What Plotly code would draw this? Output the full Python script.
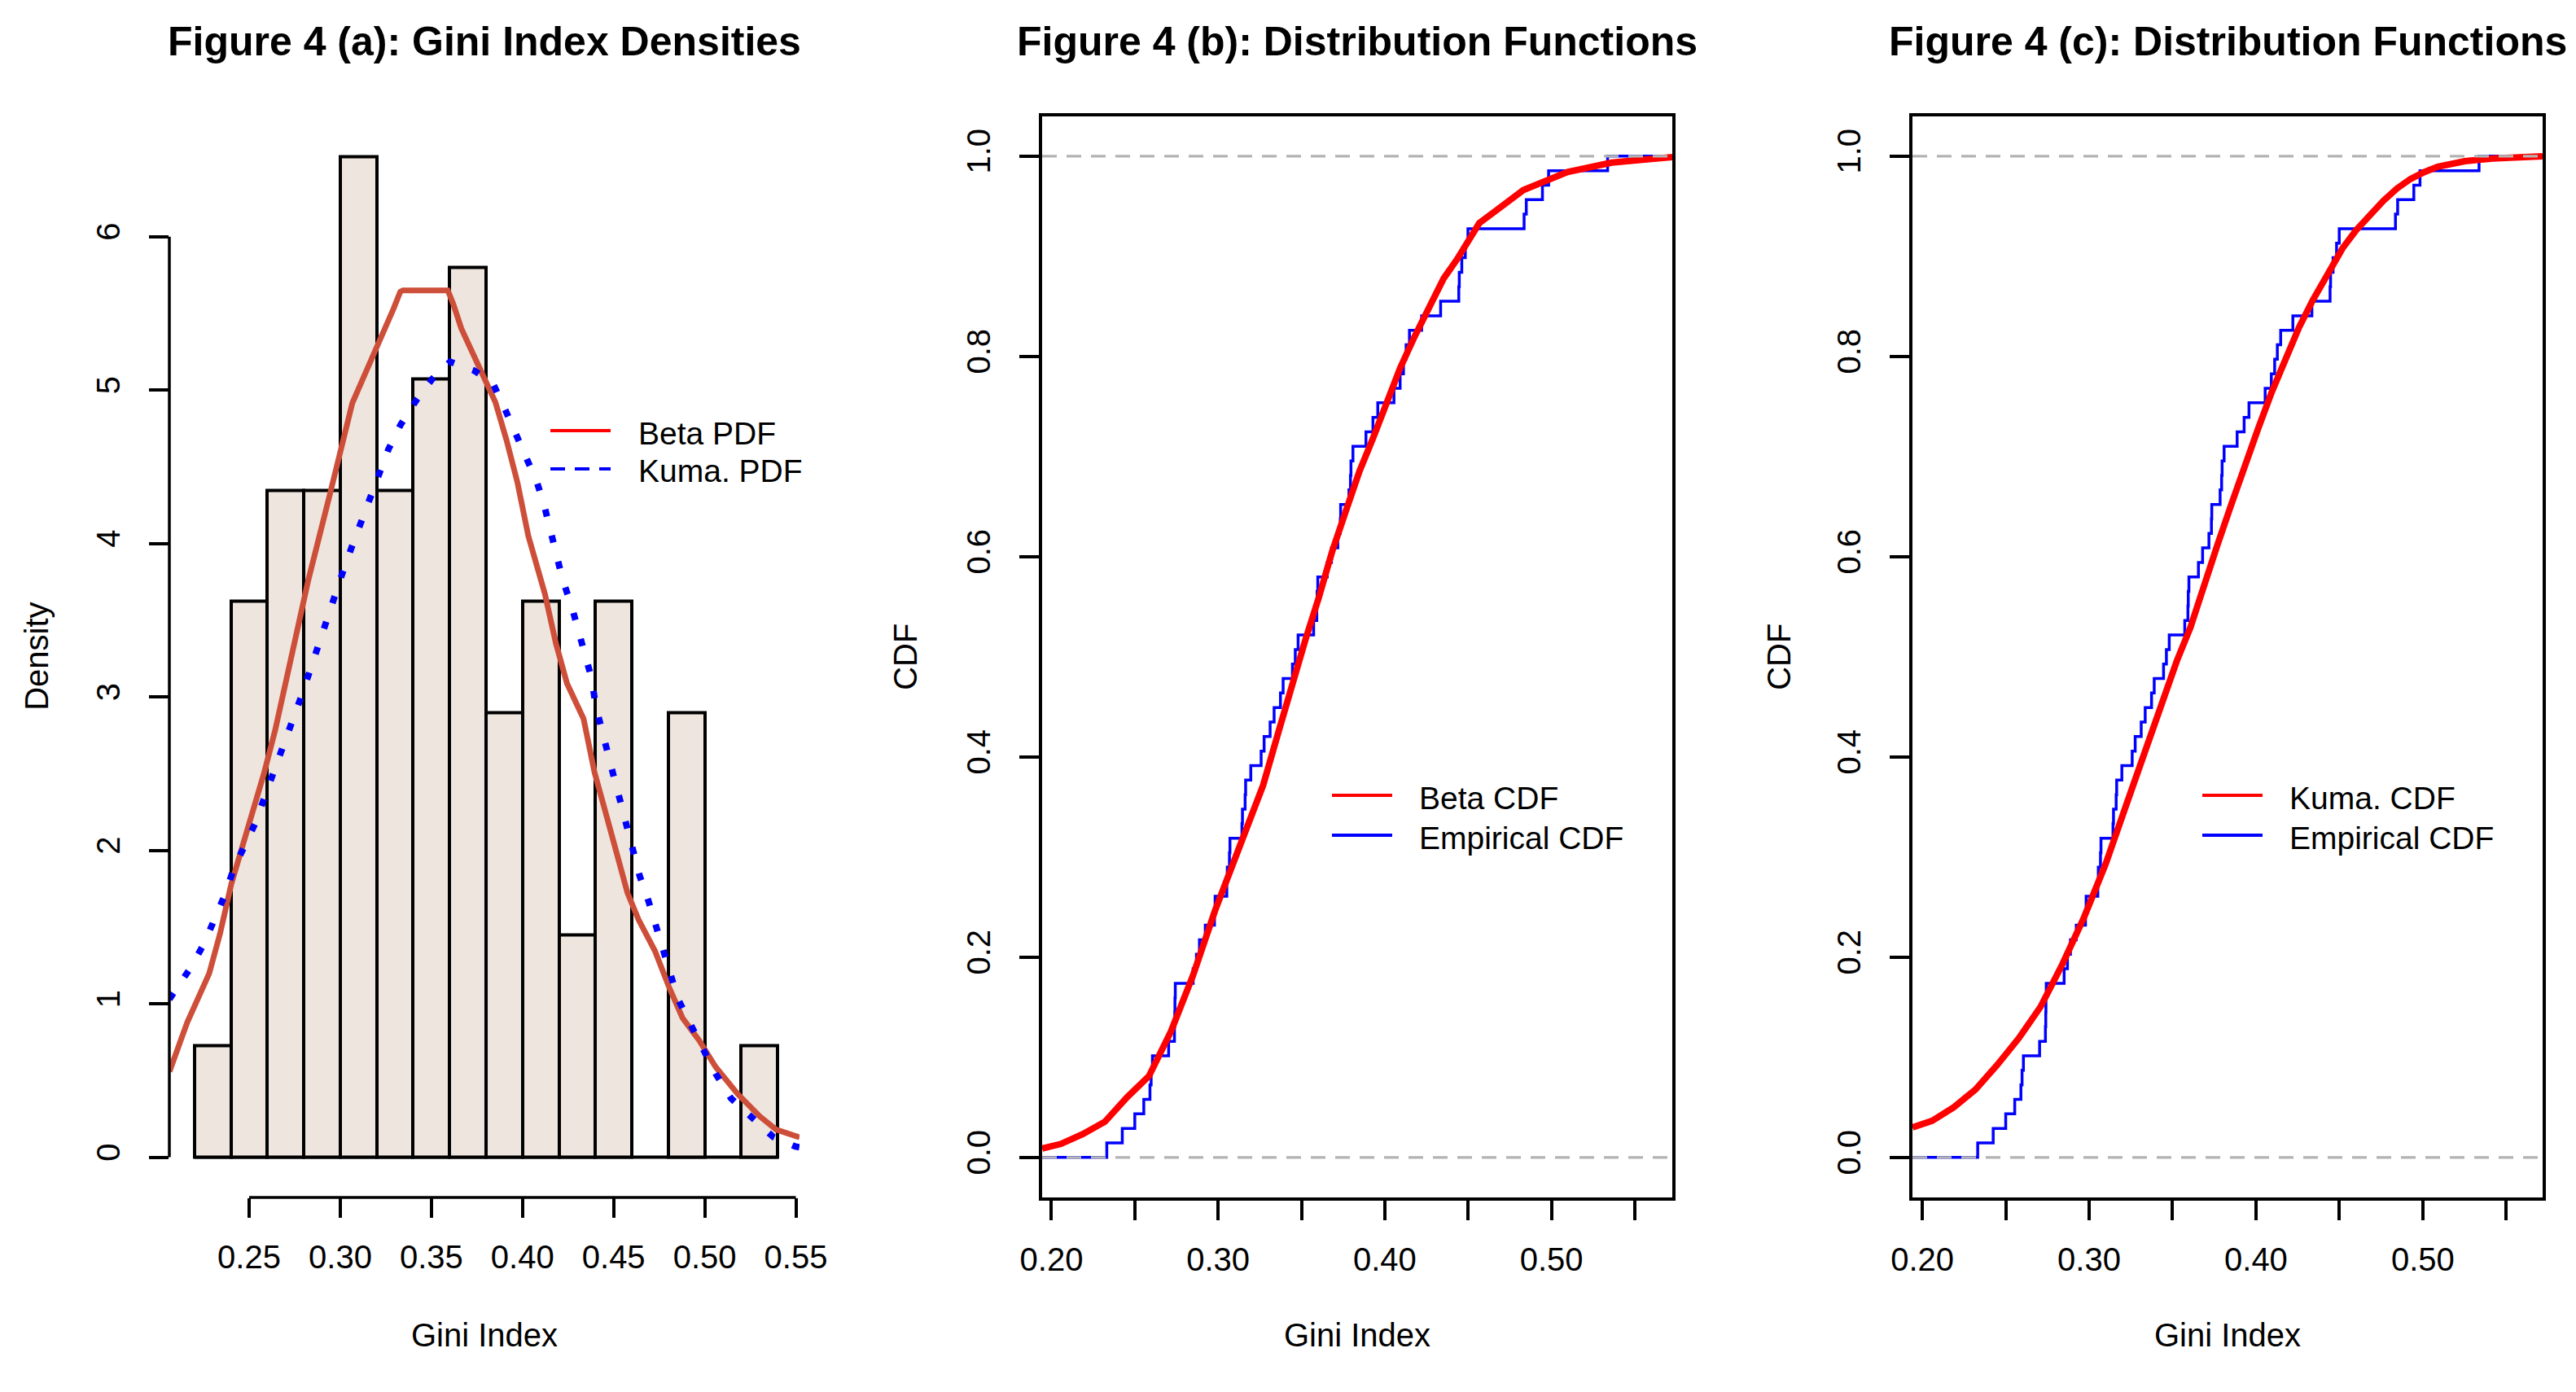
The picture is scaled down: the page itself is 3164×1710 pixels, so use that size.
import plotly.graph_objects as go

W, H = 3164, 1710
FONT = "Liberation Sans, Arial, Helvetica, sans-serif"

# observed Gini index values (n = 69)
gini = [
    0.2332, 0.2425, 0.2500, 0.2554, 0.2591, 0.2598, 0.2606, 0.2703, 0.2738, 0.2740,
    0.2741, 0.2743, 0.2850, 0.2870, 0.2888, 0.2923, 0.2978, 0.2982, 0.3052, 0.3055,
    0.3068, 0.3071, 0.3143, 0.3146, 0.3162, 0.3165, 0.3196, 0.3258, 0.3276, 0.3312,
    0.3336, 0.3374, 0.3390, 0.3446, 0.3463, 0.3480, 0.3573, 0.3592, 0.3594, 0.3598,
    0.3655, 0.3680, 0.3718, 0.3733, 0.3735, 0.3785, 0.3794, 0.3797, 0.3809, 0.3887,
    0.3929, 0.3958, 0.4055, 0.4092, 0.4112, 0.4128, 0.4148, 0.4221, 0.4335, 0.4444,
    0.4447, 0.4462, 0.4483, 0.4499, 0.4836, 0.4849, 0.4946, 0.4983, 0.5337,
]
bin_start, bin_end, bin_size = 0.22, 0.54, 0.02

# fitted densities (panel a)
beta_pdf_x = [0.2063, 0.2160, 0.2281, 0.2341, 0.2402, 0.2462, 0.2522, 0.2583, 0.2643, 0.2688,
              0.2764, 0.2824, 0.2945, 0.3006, 0.3066, 0.3128, 0.3188, 0.3247, 0.3292, 0.3329,
              0.3344, 0.3590, 0.3620, 0.3664, 0.3724, 0.3783, 0.3851, 0.3912, 0.3972, 0.4032,
              0.4123, 0.4183, 0.4244, 0.4335, 0.4395, 0.4456, 0.4516, 0.4576, 0.4637, 0.4727,
              0.4803, 0.4878, 0.4969, 0.5060, 0.5180, 0.5301, 0.5392, 0.5520]
beta_pdf_y = [0.559, 0.879, 1.199, 1.461, 1.781, 2.029, 2.247, 2.509, 2.785, 3.032,
              3.409, 3.759, 4.330, 4.632, 4.915, 5.084, 5.243, 5.420, 5.530, 5.641,
              5.650, 5.650, 5.561, 5.402, 5.243, 5.084, 4.922, 4.675, 4.399, 4.049,
              3.671, 3.351, 3.089, 2.858, 2.509, 2.247, 1.985, 1.723, 1.548, 1.344,
              1.112, 0.908, 0.762, 0.588, 0.413, 0.268, 0.180, 0.130]

kuma_pdf_x = [0.2062, 0.2084, 0.2175, 0.2251, 0.2311, 0.2366, 0.2416, 0.2483, 0.2538, 0.2589,
              0.2637, 0.2689, 0.2740, 0.2788, 0.2831, 0.2876, 0.2924, 0.2966, 0.3012, 0.3060,
              0.3112, 0.3163, 0.3214, 0.3264, 0.3330, 0.3418, 0.3506, 0.3603, 0.3735, 0.3836,
              0.3897, 0.3960, 0.4017, 0.4078, 0.4117, 0.4153, 0.4189, 0.4220, 0.4268, 0.4305,
              0.4340, 0.4380, 0.4401, 0.4431, 0.4470, 0.4501, 0.4537, 0.4570, 0.4606, 0.4643,
              0.4691, 0.4727, 0.4772, 0.4812, 0.4854, 0.4923, 0.4993, 0.5060, 0.5144, 0.5262,
              0.5377, 0.5497, 0.5520]
kuma_pdf_y = [1.030, 1.068, 1.229, 1.388, 1.548, 1.708, 1.883, 2.043, 2.188, 2.363,
              2.515, 2.683, 2.843, 3.010, 3.162, 3.328, 3.488, 3.648, 3.808, 3.968,
              4.131, 4.288, 4.456, 4.614, 4.772, 4.935, 5.075, 5.185, 5.127, 5.048,
              4.894, 4.727, 4.572, 4.404, 4.259, 4.084, 3.925, 3.765, 3.598, 3.444,
              3.279, 3.118, 2.945, 2.794, 2.640, 2.480, 2.319, 2.159, 1.990, 1.833,
              1.671, 1.513, 1.351, 1.193, 1.030, 0.864, 0.704, 0.544, 0.384, 0.253,
              0.131, 0.070, 0.065]

# fitted distribution functions (panels b and c)
beta_cdf_x = [0.1944, 0.2056, 0.2188, 0.2321, 0.2453, 0.2585, 0.2717, 0.2849, 0.2981, 0.3114,
              0.3270, 0.3359, 0.3441, 0.3522, 0.3604, 0.3685, 0.3766, 0.3848, 0.3930, 0.4011,
              0.4092, 0.4174, 0.4255, 0.4353, 0.4435, 0.4567, 0.4831, 0.5096, 0.5361, 0.5725]
beta_cdf_y = [0.0089, 0.0134, 0.0233, 0.0357, 0.0599, 0.0812, 0.1258, 0.1816, 0.2463, 0.3042,
              0.3716, 0.4231, 0.4728, 0.5160, 0.5591, 0.6056, 0.6454, 0.6853, 0.7185, 0.7550,
              0.7883, 0.8181, 0.8463, 0.8778, 0.8974, 0.9331, 0.9660, 0.9842, 0.9935, 0.9990]

kuma_cdf_x = [0.1941, 0.2059, 0.2189, 0.2319, 0.2449, 0.2579, 0.2709, 0.2839, 0.2969, 0.3099,
              0.3230, 0.3362, 0.3444, 0.3526, 0.3607, 0.3689, 0.3770, 0.3852, 0.3933, 0.4014,
              0.4096, 0.4177, 0.4258, 0.4340, 0.4438, 0.4519, 0.4600, 0.4682, 0.4764, 0.4845,
              0.4926, 0.5008, 0.5089, 0.5252, 0.5415, 0.5718]
kuma_cdf_y = [0.0299, 0.0366, 0.0501, 0.0678, 0.0924, 0.1192, 0.1504, 0.1927, 0.2396, 0.2931,
              0.3556, 0.4200, 0.4563, 0.4961, 0.5293, 0.5724, 0.6122, 0.6521, 0.6919, 0.7284,
              0.7650, 0.7990, 0.8290, 0.8560, 0.8851, 0.9080, 0.9260, 0.9420, 0.9555, 0.9677,
              0.9772, 0.9840, 0.9894, 0.9949, 0.9976, 0.9999]

# ticks
hist_xticks = [0.25, 0.30, 0.35, 0.40, 0.45, 0.50, 0.55]
hist_xlabels = ["0.25", "0.30", "0.35", "0.40", "0.45", "0.50", "0.55"]
density_ticks = [0, 1, 2, 3, 4, 5, 6]
cdf_xticks = [0.20, 0.25, 0.30, 0.35, 0.40, 0.45, 0.50, 0.55]
cdf_xlabels = ["0.20", "", "0.30", "", "0.40", "", "0.50", ""]
cdf_yticks = [0.0, 0.2, 0.4, 0.6, 0.8, 1.0]
cdf_ylabels = ["0.0", "0.2", "0.4", "0.6", "0.8", "1.0"]

titles = ["Figure 4 (a): Gini Index Densities",
          "Figure 4 (b): Distribution Functions",
          "Figure 4 (c): Distribution Functions"]


def fx(p):
    return p / W


def fy(p):
    return 1 - p / H


# plot regions in pixels
PAN_A, PAN_B, PAN_C = (208, 982), (1280, 2054), (2349, 3123)
TOP, BOT = 142.6, 1471
XR_A, XR_B, XR_C = [0.2062, 0.5520], [0.1944, 0.5725], [0.1941, 0.5718]

BLUE, RED, TOMATO = "#0000FF", "#FF0000", "#CD4F39"
GREY = "#B3B3B3"

# empirical CDF as a step line
srt = sorted(gini)
n = len(srt)
ecdf_y = [0.0] + [(i + 1) / n for i in range(n)] + [1.0]
ecdf_xb = [XR_B[0]] + srt + [XR_B[1]]
ecdf_xc = [XR_C[0]] + srt + [XR_C[1]]

fig = go.Figure()

fig.add_trace(go.Histogram(
    x=gini, histnorm="probability density",
    xbins=dict(start=bin_start, end=bin_end, size=bin_size),
    marker=dict(color="#EEE5DE", line=dict(color="black", width=4)),
    xaxis="x", yaxis="y", showlegend=False))
fig.add_trace(go.Scatter(x=beta_pdf_x, y=beta_pdf_y, mode="lines",
                         line=dict(color=TOMATO, width=7),
                         xaxis="x", yaxis="y", showlegend=False))
fig.add_trace(go.Scatter(x=kuma_pdf_x, y=kuma_pdf_y, mode="lines",
                         line=dict(color=BLUE, width=8, dash="9px,24px"),
                         xaxis="x", yaxis="y", showlegend=False))

fig.add_trace(go.Scatter(x=ecdf_xb, y=ecdf_y, mode="lines",
                         line=dict(color=BLUE, width=3.5, shape="hv"),
                         xaxis="x2", yaxis="y2", showlegend=False))
fig.add_trace(go.Scatter(x=beta_cdf_x, y=beta_cdf_y, mode="lines",
                         line=dict(color=RED, width=8),
                         xaxis="x2", yaxis="y2", showlegend=False))

fig.add_trace(go.Scatter(x=ecdf_xc, y=ecdf_y, mode="lines",
                         line=dict(color=BLUE, width=3.5, shape="hv"),
                         xaxis="x3", yaxis="y3", showlegend=False))
fig.add_trace(go.Scatter(x=kuma_cdf_x, y=kuma_cdf_y, mode="lines",
                         line=dict(color=RED, width=8),
                         xaxis="x3", yaxis="y3", showlegend=False))

tick_style = dict(ticks="outside", ticklen=24, tickwidth=3.5, tickcolor="black",
                  tickfont=dict(family=FONT, size=40, color="black"),
                  showgrid=False, zeroline=False, automargin=False)
xtick = dict(tick_style, ticklabelstandoff=14)
ytick = dict(tick_style, ticklabelstandoff=20)
box = dict(showline=True, mirror=True, linecolor="black", linewidth=3.5)
ydom = [fy(BOT), fy(TOP)]

fig.update_layout(
    width=W, height=H, autosize=False,
    margin=dict(l=0, r=0, t=0, b=0, pad=0, autoexpand=False),
    paper_bgcolor="white", plot_bgcolor="white",
    bargap=0, showlegend=False,
    xaxis=dict(domain=[fx(PAN_A[0]), fx(PAN_A[1])], range=XR_A, anchor="y",
               tickvals=hist_xticks, ticktext=hist_xlabels, showline=False, **xtick),
    yaxis=dict(domain=ydom, range=[-0.262, 6.786], anchor="x",
               tickvals=density_ticks, tickangle=-90, showline=False, **ytick),
    xaxis2=dict(domain=[fx(PAN_B[0]), fx(PAN_B[1])], range=XR_B, anchor="y2",
                tickvals=cdf_xticks, ticktext=cdf_xlabels, **box, **xtick),
    yaxis2=dict(domain=ydom, range=[-0.04, 1.04], anchor="x2",
                tickvals=cdf_yticks, ticktext=cdf_ylabels, tickangle=-90, **box, **ytick),
    xaxis3=dict(domain=[fx(PAN_C[0]), fx(PAN_C[1])], range=XR_C, anchor="y3",
                tickvals=cdf_xticks, ticktext=cdf_xlabels, **box, **xtick),
    yaxis3=dict(domain=ydom, range=[-0.04, 1.04], anchor="x3",
                tickvals=cdf_yticks, ticktext=cdf_ylabels, tickangle=-90, **box, **ytick),
)

shapes = []
# R-style axis lines for the histogram panel (only between first and last tick)
shapes.append(dict(type="line", xref="x", yref="paper",
                   x0=hist_xticks[0], x1=hist_xticks[-1], y0=fy(BOT), y1=fy(BOT),
                   line=dict(color="black", width=3.5)))
shapes.append(dict(type="line", xref="paper", yref="y",
                   x0=fx(PAN_A[0]), x1=fx(PAN_A[0]), y0=density_ticks[0], y1=density_ticks[-1],
                   line=dict(color="black", width=3.5)))
# histogram baseline (empty bins)
shapes.append(dict(type="line", xref="x", yref="y", x0=bin_start, x1=bin_end, y0=0, y1=0,
                   line=dict(color="black", width=4), layer="below"))
# grey reference lines at 0 and 1
for ax in ("2", "3"):
    for h in (0, 1):
        shapes.append(dict(type="line", xref="x%s domain" % ax, yref="y" + ax,
                           x0=0, x1=1, y0=h, y1=h, layer="above",
                           line=dict(color=GREY, width=3.3, dash="18px,12px")))

annotations = []
centers = [(PAN_A[0] + PAN_A[1]) / 2, (PAN_B[0] + PAN_B[1]) / 2, (PAN_C[0] + PAN_C[1]) / 2]
for c, t in zip(centers, titles):
    annotations.append(dict(text="<b>%s</b>" % t, x=fx(c), y=fy(51), xref="paper", yref="paper",
                            showarrow=False, xanchor="center", yanchor="middle",
                            font=dict(family=FONT, size=50, color="black")))
    annotations.append(dict(text="Gini Index", x=fx(c), y=fy(1640), xref="paper", yref="paper",
                            showarrow=False, xanchor="center", yanchor="middle",
                            font=dict(family=FONT, size=40, color="black")))
for xpos, t in ((45, "Density"), (1112, "CDF"), (2185, "CDF")):
    annotations.append(dict(text=t, x=fx(xpos), y=fy((TOP + BOT) / 2), xref="paper", yref="paper",
                            showarrow=False, textangle=-90, xanchor="center", yanchor="middle",
                            font=dict(family=FONT, size=40, color="black")))

# legends: (line x0, line x1, text x, [(y, colour, dash, label), ...])
legends = [
    (676, 750, 782, [(529, RED, "solid", "Beta PDF"), (576, BLUE, "18px,12px", "Kuma. PDF")]),
    (1636, 1710, 1741, [(977, RED, "solid", "Beta CDF"), (1026, BLUE, "solid", "Empirical CDF")]),
    (2705, 2779, 2810, [(977, RED, "solid", "Kuma. CDF"), (1026, BLUE, "solid", "Empirical CDF")]),
]
for x0, x1, xt, rows in legends:
    for yy, col, dash, label in rows:
        shapes.append(dict(type="line", xref="paper", yref="paper",
                           x0=fx(x0), x1=fx(x1), y0=fy(yy), y1=fy(yy),
                           line=dict(color=col, width=4, dash=dash)))
        annotations.append(dict(text=label, x=fx(xt), y=fy(yy + 3), xref="paper", yref="paper",
                                showarrow=False, xanchor="left", yanchor="middle",
                                font=dict(family=FONT, size=39, color="black")))

fig.update_layout(shapes=shapes, annotations=annotations)

# drop the default page margin so the figure sits at the window origin
fig.write_html("out.html", config={"displayModeBar": False},
               post_script="document.body.style.margin='0px';")
